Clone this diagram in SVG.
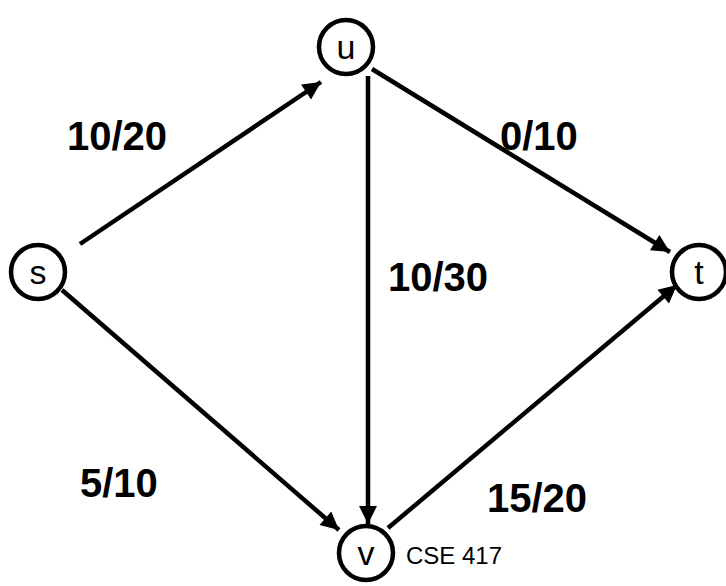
<svg xmlns="http://www.w3.org/2000/svg" width="726" height="586" viewBox="0 0 726 586">
<style>
.node{fill:#fff;stroke:#000;stroke-width:4.5}
.nl{font-family:"Liberation Sans",Arial,sans-serif;font-size:34px;text-anchor:middle;fill:#000}
.edge{stroke:#000;stroke-width:4.5;fill:none;marker-end:url(#arr)}
.el{font-family:"Liberation Sans",Arial,sans-serif;font-size:40px;font-weight:bold;fill:#000}
.note{font-family:"Liberation Sans",Arial,sans-serif;font-size:24px;fill:#000}
</style>
<defs>
<marker id="arr" viewBox="0 0 10 10" refX="10" refY="5" markerWidth="5" markerHeight="4" markerUnits="strokeWidth" orient="auto">
<path d="M0,0 L10,5 L0,10 z" fill="#000"/>
</marker>
</defs>
<rect width="726" height="586" fill="#fff"/>
<g id="connectors">
<line class="edge" x1="80" y1="244" x2="321" y2="82"/>
<line class="edge" x1="372" y1="69" x2="670" y2="252"/>
<line class="edge" x1="368" y1="76" x2="368" y2="524"/>
<line class="edge" x1="62" y1="290" x2="339" y2="530"/>
<line class="edge" x1="388" y1="528" x2="677" y2="285"/>
</g>
<g id="node-s"><circle class="node" cx="38" cy="272" r="27"/><text class="nl" x="38" y="284">s</text></g>
<g id="node-u"><circle class="node" cx="346" cy="47" r="27"/><text class="nl" x="346" y="59">u</text></g>
<g id="node-t"><circle class="node" cx="699" cy="272" r="27"/><text class="nl" x="699" y="284">t</text></g>
<g id="node-v"><circle class="node" cx="366" cy="553" r="27"/><text class="nl" x="366" y="565">v</text></g>
<g id="labels">
<text class="el" x="67" y="150">10/20</text>
<text class="el" x="500" y="150">0/10</text>
<text class="el" x="388" y="291">10/30</text>
<text class="el" x="80" y="497">5/10</text>
<text class="el" x="487" y="512">15/20</text>
<text class="note" x="406" y="564">CSE 417</text>
</g>
</svg>
